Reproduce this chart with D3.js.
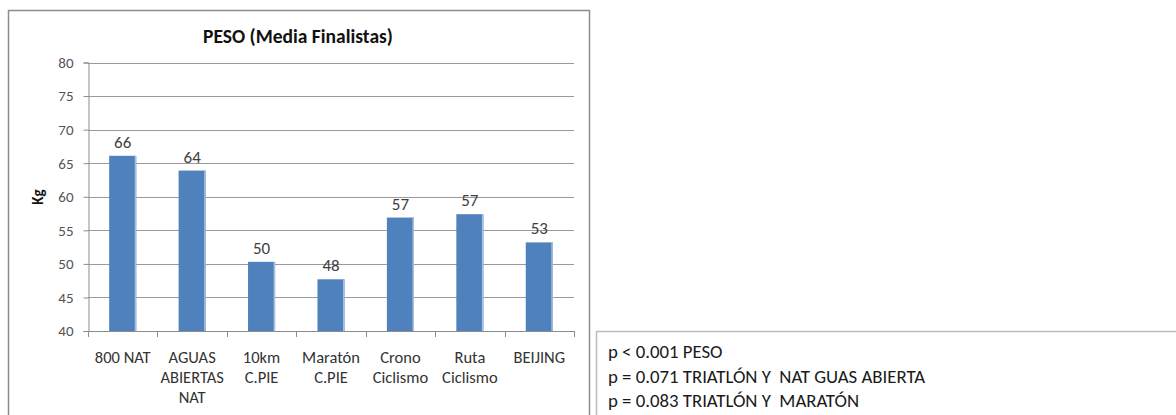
<!DOCTYPE html>
<html>
<head>
<meta charset="utf-8">
<script src="https://cdn.jsdelivr.net/npm/d3@7"></script>
<style>
  html, body { margin: 0; padding: 0; background: #fff; }
  svg { display: block; }
  text { font-family: Carlito, "Liberation Sans Narrow", "Liberation Sans", sans-serif; }
  .note { white-space: pre; }
</style>
</head>
<body>
<svg id="chart" width="1176" height="415"></svg>
<script>
// Mean weight of finalists per discipline (kg)
const categories = [
  ["800 NAT"],
  ["AGUAS", "ABIERTAS", "NAT"],
  ["10km", "C.PIE"],
  ["Maratón", "C.PIE"],
  ["Crono", "Ciclismo"],
  ["Ruta", "Ciclismo"],
  ["BEIJING"]
];
const pesos = [66.1, 63.9, 50.3, 47.7, 56.9, 57.4, 53.2];
const yTicks = [40, 45, 50, 55, 60, 65, 70, 75, 80];
const notes = [
  "p < 0.001 PESO",
  "p = 0.071 TRIATLÓN Y  NAT GUAS ABIERTA",
  "p = 0.083 TRIATLÓN Y  MARATÓN"
];

const svg = d3.select("#chart");

// chart frame
svg.append("rect")
  .attr("x", 8.5).attr("y", 10.5)
  .attr("width", 581).attr("height", 420)
  .attr("fill", "none").attr("stroke", "#8c8c8c").attr("stroke-width", 1.5);

const plot = { left: 88, right: 574, top: 62.5, bottom: 331 };
const keys = categories.map((c, i) => i);

const x = d3.scaleBand().domain(keys).range([plot.left, plot.right]).paddingInner(0.61).paddingOuter(0.305);
const band = d3.scaleBand().domain(keys).range([plot.left, plot.right]);
const y = d3.scaleLinear().domain([40, 80]).range([plot.bottom, plot.top]);

// title
svg.append("text")
  .attr("x", 298).attr("y", 43)
  .attr("text-anchor", "middle")
  .attr("font-size", 19.5).attr("font-weight", "bold").attr("fill", "#111")
  .text("PESO (Media Finalistas)");

// gridlines
svg.append("g")
  .selectAll("line").data(yTicks.filter(t => t > 40)).join("line")
  .attr("x1", plot.left).attr("x2", plot.right)
  .attr("y1", d => Math.round(y(d)) + 0.5).attr("y2", d => Math.round(y(d)) + 0.5)
  .attr("stroke", "#9a9a9a").attr("stroke-width", 1);

// y axis
const yAxis = svg.append("g")
  .attr("transform", `translate(${plot.left + 0.5},0)`)
  .call(d3.axisLeft(y).tickValues(yTicks).tickSize(5).tickPadding(10).tickFormat(d3.format("d")));
yAxis.select(".domain").attr("stroke", "#8c8c8c");
yAxis.selectAll(".tick line").attr("stroke", "#8c8c8c");
yAxis.selectAll(".tick text")
  .attr("font-size", 15).attr("fill", "#555")
  .style("font-family", 'Carlito, "Liberation Sans Narrow", "Liberation Sans", sans-serif');

// y axis title
svg.append("text")
  .attr("transform", "translate(43,197) rotate(-90)")
  .attr("text-anchor", "middle")
  .attr("font-size", 15).attr("font-weight", "bold").attr("fill", "#111")
  .text("Kg");

// x axis line with ticks at category boundaries
const xg = svg.append("g");
xg.append("line")
  .attr("x1", plot.left).attr("x2", plot.right)
  .attr("y1", plot.bottom + 0.5).attr("y2", plot.bottom + 0.5)
  .attr("stroke", "#8c8c8c");
const bounds = keys.map(k => band(k)).concat([plot.right]);
xg.selectAll("line.tk").data(bounds).join("line").attr("class", "tk")
  .attr("x1", d => Math.round(d) + 0.5).attr("x2", d => Math.round(d) + 0.5)
  .attr("y1", plot.bottom).attr("y2", plot.bottom + 6)
  .attr("stroke", "#8c8c8c");

// bars
const bars = svg.append("g").selectAll("g").data(pesos).join("g");
bars.append("rect")
  .attr("x", (d, i) => x(i)).attr("width", x.bandwidth())
  .attr("y", d => y(d)).attr("height", d => y(40) - y(d))
  .attr("fill", "#4f81bd");
bars.append("rect")
  .attr("x", (d, i) => x(i) + x.bandwidth() - 1.5).attr("width", 1.5)
  .attr("y", d => y(d)).attr("height", d => y(40) - y(d))
  .attr("fill", "#a9c1e0");

// value labels
bars.append("text")
  .attr("x", (d, i) => x(i) + x.bandwidth() / 2)
  .attr("y", d => y(d) - 8)
  .attr("text-anchor", "middle")
  .attr("font-size", 17).attr("fill", "#404040")
  .text(d => d3.format(".0f")(d));

// category labels
svg.append("g").selectAll("text").data(categories).join("text")
  .attr("x", (d, i) => band(i) + band.bandwidth() / 2)
  .attr("y", 363)
  .attr("text-anchor", "middle")
  .attr("font-size", 16.5).attr("fill", "#333")
  .selectAll("tspan").data(d => d).join("tspan")
  .attr("x", function () { return d3.select(this.parentNode).attr("x"); })
  .attr("dy", (d, j) => j === 0 ? 0 : 20)
  .text(d => d);

// notes box
svg.append("rect")
  .attr("x", 596.5).attr("y", 331.5)
  .attr("width", 600).attr("height", 100)
  .attr("fill", "#fff").attr("stroke", "#bdbdbd").attr("stroke-width", 1.5);
svg.append("g").selectAll("text").data(notes).join("text")
  .attr("class", "note")
  .attr("x", 608)
  .attr("y", (d, i) => 358 + i * 24.5)
  .attr("font-size", 18.8).attr("fill", "#1a1a1a")
  .text(d => d);
</script>
</body>
</html>
